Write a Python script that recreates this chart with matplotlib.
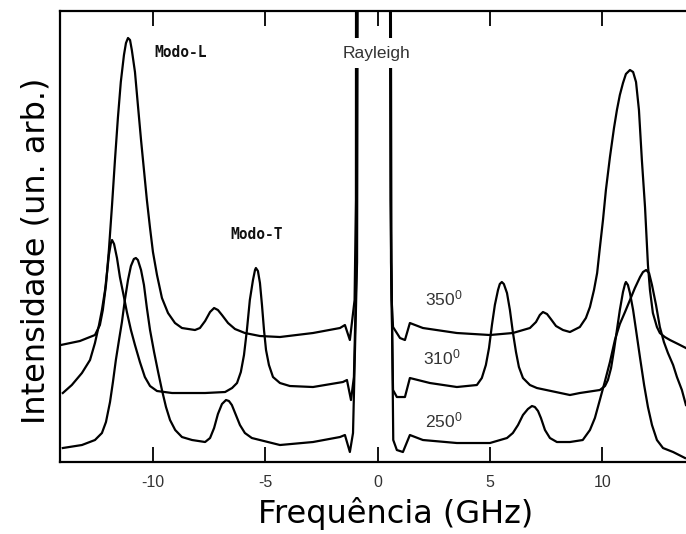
import matplotlib
matplotlib.use("Agg")
import matplotlib.pyplot as plt

# ---- data (frequency in GHz, intensity in arbitrary units) ----
x350 = [-14.09, -13.24, -12.57, -12.35, -12.22, -12.08, -11.95, -11.81, -11.68, -11.55, -11.42,
        -11.28, -11.19, -11.10, -11.01, -10.93, -10.79, -10.66, -10.52, -10.39, -10.26, -10.12,
        -9.99, -9.81, -9.59, -9.32, -9.01, -8.70, -8.12, -7.90, -7.67, -7.45, -7.27, -7.10,
        -6.92, -6.65, -6.34, -5.90, -5.23, -4.34, -2.87, -1.67, -1.45, -1.23, -1.02, -0.96, -0.95,
        0.53, 0.58, 0.63, 0.69, 1.00, 1.22, 1.44, 2.02, 3.53, 5.00, 6.02, 6.78, 7.05, 7.22,
        7.36, 7.54, 7.71, 7.94, 8.25, 8.56, 9.00, 9.27, 9.45, 9.63, 9.77, 9.89, 10.03, 10.16,
        10.34, 10.52, 10.65, 10.78, 10.92, 11.05, 11.23, 11.37, 11.50, 11.63, 11.76, 11.90,
        12.03, 12.12, 12.25, 12.43, 12.56, 12.78, 13.01, 13.37, 13.72]
y350 = [117, 121, 127, 137, 152, 177, 212, 257, 302, 344, 380,
        407, 419, 424, 422, 412, 390, 357, 322, 292, 262, 234,
        210, 187, 164, 149, 139, 134, 132, 134, 141, 150, 154, 152,
        147, 139, 133, 129, 126, 125, 129, 134, 137, 122, 162, 262, 700,
        700, 262, 162, 135, 124, 122, 139, 134, 129, 127, 129, 134, 140, 147,
        150, 148, 143, 136, 132, 130, 135, 144, 155, 172, 189, 214, 242, 272,
        305, 334, 352, 367, 379, 388, 392, 390, 380, 352, 302, 255,
        197, 172, 149, 135, 129, 125, 122, 118, 114]

x310 = [-14.0, -13.60, -13.15, -12.79, -12.57, -12.39, -12.26, -12.12, -12.03, -11.95, -11.86,
        -11.81, -11.72, -11.59, -11.46, -11.28, -11.15, -10.97, -10.79, -10.57, -10.35, -10.12,
        -9.81, -9.14, -7.67, -6.78, -6.47, -6.25, -6.08, -5.94, -5.81, -5.68, -5.54, -5.45,
        -5.41, -5.32, -5.23, -5.14, -5.05, -4.96, -4.83, -4.65, -4.34, -3.90, -2.87, -1.54,
        -1.36, -1.18, -1.05, -0.93, -0.90,
        0.55, 0.60, 0.69, 0.86, 1.22, 1.44, 2.33, 3.53, 4.42, 4.64, 4.82, 4.96, 5.09, 5.22,
        5.36, 5.44, 5.53, 5.62, 5.76, 5.89, 6.02, 6.16, 6.29, 6.47, 6.78, 7.09, 8.56, 9.00,
        9.89, 10.12, 10.25, 10.39, 10.52, 10.65, 10.78, 10.92, 11.01, 11.05, 11.14, 11.23,
        11.37, 11.50, 11.68, 11.86, 12.03, 12.21, 12.43, 12.70, 13.15, 13.68]
y310 = [69, 77, 89, 102, 119, 137, 152, 172, 190, 207, 219,
        222, 218, 204, 185, 165, 150, 132, 117, 100, 85, 76,
        71, 69, 69, 70, 74, 79, 90, 107, 132, 162, 182, 192,
        194, 191, 179, 157, 132, 112, 97, 85, 79, 76, 75, 80,
        82, 62, 85, 200, 700,
        700, 200, 72, 65, 65, 84, 79, 75, 77, 84, 97, 114, 137, 157,
        172, 178, 180, 178, 169, 152, 130, 110, 95, 84, 77, 74, 67, 69,
        72, 76, 82, 94, 112, 132, 152, 170, 178, 180, 177, 169,
        152, 132, 104, 77, 55, 37, 22, 14, 10, 4]

x250 = [-14.0, -13.15, -12.57, -12.26, -12.08, -11.90, -11.77, -11.64, -11.50, -11.37, -11.24,
        -11.10, -10.97, -10.84, -10.75, -10.66, -10.52, -10.39, -10.26, -10.12, -9.94, -9.76,
        -9.59, -9.41, -9.23, -9.00, -8.70, -8.25, -7.67, -7.45, -7.27, -7.10, -6.92, -6.74,
        -6.61, -6.48, -6.30, -6.12, -5.90, -5.59, -4.34, -2.87, -1.67, -1.45, -1.23, -1.09,
        -0.91, -0.86,
        0.57, 0.62, 0.70, 0.86, 1.13, 1.44, 2.02, 3.53, 5.00, 5.76, 6.02, 6.25, 6.47, 6.69,
        6.87, 7.00, 7.14, 7.27, 7.45, 7.67, 7.98, 8.56, 9.13, 9.45, 9.67, 9.89, 10.12, 10.34,
        10.56, 10.78, 11.01, 11.23, 11.45, 11.68, 11.81, 11.95, 12.08, 12.21, 12.39, 12.56,
        12.74, 12.92, 13.15, 13.32, 13.54, 13.72]
y250 = [14, 17, 22, 29, 40, 60, 80, 102, 122, 140, 162,
        182, 196, 203, 204, 202, 192, 177, 154, 132, 110, 90,
        72, 55, 42, 32, 25, 22, 20, 24, 34, 48, 58, 62,
        61, 57, 47, 37, 29, 24, 17, 20, 25, 27, 10, 29,
        200, 700,
        700, 200, 22, 12, 10, 27, 22, 19, 19, 24, 29, 37, 47, 53,
        56, 55, 51, 44, 32, 24, 20, 20, 22, 32, 44, 62, 81, 100,
        122, 138, 150, 162, 174, 185, 190, 192, 189, 177, 157, 135,
        120, 109, 97, 85, 72, 57]

xticks = [-10, -5, 0, 5, 10]
xticklabels = ["-10", "-5", "0", "5", "10"]
angle_labels = ["350", "310", "250"]
angle_pos_x = [2.93, 2.88, 2.93]
angle_pos_y = [164, 105, 42]

# ---- figure ----
fig = plt.figure(figsize=(6.86, 5.34), dpi=100)
ax = fig.add_axes([0.0873, 0.1348, 0.9316, 0.8446])

for xs, ys in [(x350, y350), (x310, y310), (x250, y250)]:
    ax.plot(xs, ys, color="black", lw=1.6, solid_joinstyle="round")

ax.set_xlim(-14.13, 14.3)
ax.set_ylim(0, 451)
ax.set_yticks([])
ax.set_xticks(xticks)
ax.set_xticklabels(xticklabels, fontfamily="Liberation Sans", fontsize=11.5, color="#333333")
ax.tick_params(axis="x", which="both", direction="in", length=10.5, width=1.3,
               top=True, bottom=True, pad=9, color="black")
for s in ax.spines.values():
    s.set_linewidth(1.6)
    s.set_color("black")

# annotations
ax.text(-8.75, 410, "Modo-L", fontfamily="DejaVu Sans Mono", fontweight="bold",
        fontsize=10.5, ha="center", va="center", color="#111111")
ax.text(-5.4, 228, "Modo-T", fontfamily="DejaVu Sans Mono", fontweight="bold",
        fontsize=10.5, ha="center", va="center", color="#111111")
ax.text(-0.04, 409, "Rayleigh", fontfamily="Liberation Sans", fontsize=12.5,
        ha="center", va="center", color="#333333",
        bbox=dict(boxstyle="square,pad=0.45", fc="white", ec="none"))
for lab, px, py in zip(angle_labels, angle_pos_x, angle_pos_y):
    ax.text(px, py, r"$\mathregular{" + lab + "^{0}}$", fontfamily="Liberation Sans",
            fontsize=12.5, ha="center", va="center", color="#333333")

fig.text(0.576, 0.038, "Frequência (GHz)", fontfamily="DejaVu Sans", fontsize=23,
         ha="center", va="center", color="black")
fig.text(0.052, 0.53, "Intensidade (un. arb.)", fontfamily="DejaVu Sans", fontsize=23,
         rotation=90, ha="center", va="center", color="black")

fig.savefig("out.png", dpi=100)
